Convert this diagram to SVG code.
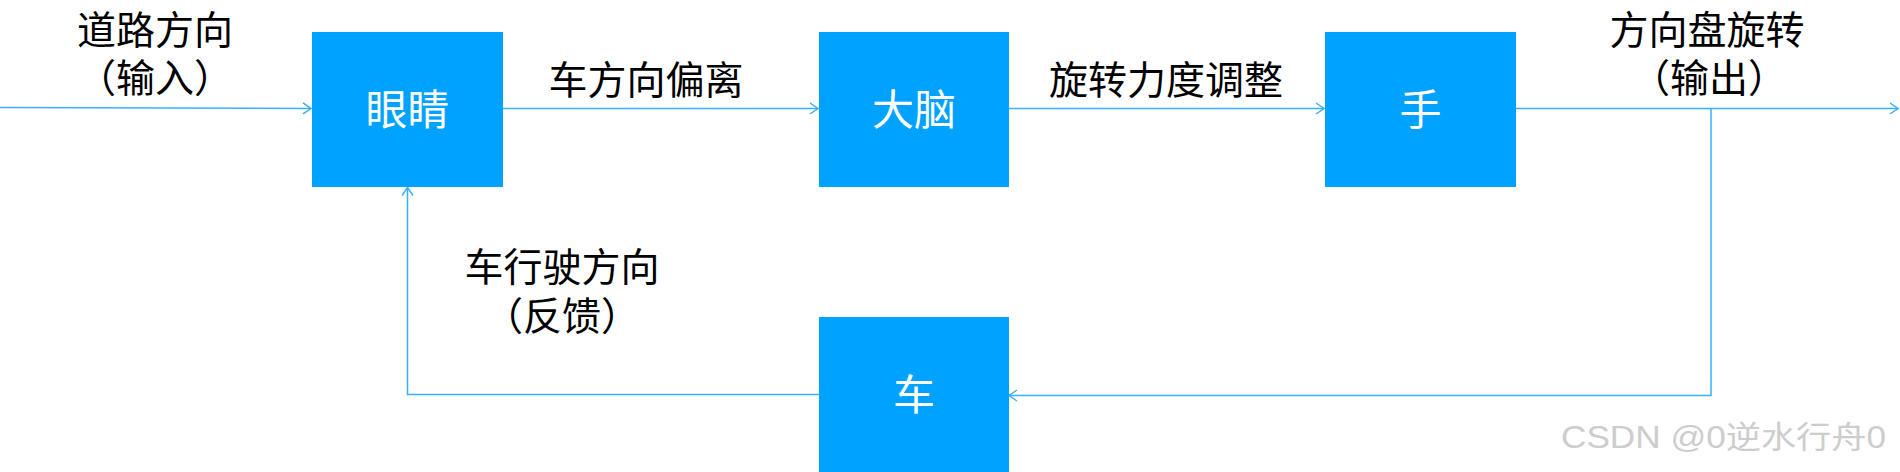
<svg xmlns="http://www.w3.org/2000/svg" width="1900" height="472" viewBox="0 0 1900 472">
  <defs>
    <marker id="arr" markerUnits="userSpaceOnUse" markerWidth="12" markerHeight="14" refX="8" refY="5.5" orient="auto" overflow="visible">
      <path d="M0,0 L8,5.5 L0,11" fill="none" stroke="#3AAEFF" stroke-width="1.5"/>
    </marker>
  </defs>
  <style>
    .box { fill: #00A2FF; }
    .conn { fill: none; stroke: #3AAEFF; stroke-width: 1.5; marker-end: url(#arr); }
    .lbl { font-family: "Noto Sans CJK SC", "Noto Sans", sans-serif; font-size: 39px; fill: #000; text-anchor: middle; }
    .nlbl { font-family: "Noto Sans CJK SC", "Noto Sans", sans-serif; font-size: 42px; fill: #fff; text-anchor: middle; }
    .wm { font-family: "Liberation Sans", "Noto Sans CJK SC", sans-serif; font-size: 31px; fill: #cdcdcd; }
  </style>
  <rect width="1900" height="472" fill="#fff"/>

  <g id="connectors">
    <path class="conn" d="M0,107.5 L311,108.5"/>
    <path class="conn" d="M503,108.5 L818,108.5"/>
    <path class="conn" d="M1009,108.5 L1324,108.5"/>
    <path class="conn" d="M1516,108.5 L1898,108.5"/>
    <path class="conn" d="M1711,108.5 L1711,395.5 L1009,395.5"/>
    <path class="conn" d="M819,394.5 L407.5,394.5 L407.5,187.5"/>
  </g>

  <g id="node-eye">
    <rect class="box" x="312" y="32" width="191" height="155"/>
    <text class="nlbl" x="407.5" y="125">眼睛</text>
  </g>
  <g id="node-brain">
    <rect class="box" x="819" y="32" width="190" height="155"/>
    <text class="nlbl" x="914" y="125">大脑</text>
  </g>
  <g id="node-hand">
    <rect class="box" x="1325" y="32" width="191" height="155"/>
    <text class="nlbl" x="1420.5" y="125">手</text>
  </g>
  <g id="node-car">
    <rect class="box" x="819" y="317" width="190" height="155"/>
    <text class="nlbl" x="914" y="410">车</text>
  </g>

  <g id="labels">
    <text class="lbl" x="155" y="44">道路方向<tspan x="155" dy="48">（输入）</tspan></text>
    <text class="lbl" x="646" y="94">车方向偏离</text>
    <text class="lbl" x="1166" y="94">旋转力度调整</text>
    <text class="lbl" x="1707" y="44">方向盘旋转<tspan x="1709" dy="48">（输出）</tspan></text>
    <text class="lbl" x="562" y="281">车行驶方向<tspan x="562" dy="49">（反馈）</tspan></text>
  </g>

  <text class="wm" x="1561" y="448" textLength="325" lengthAdjust="spacingAndGlyphs">CSDN @0逆水行舟0</text>
</svg>
